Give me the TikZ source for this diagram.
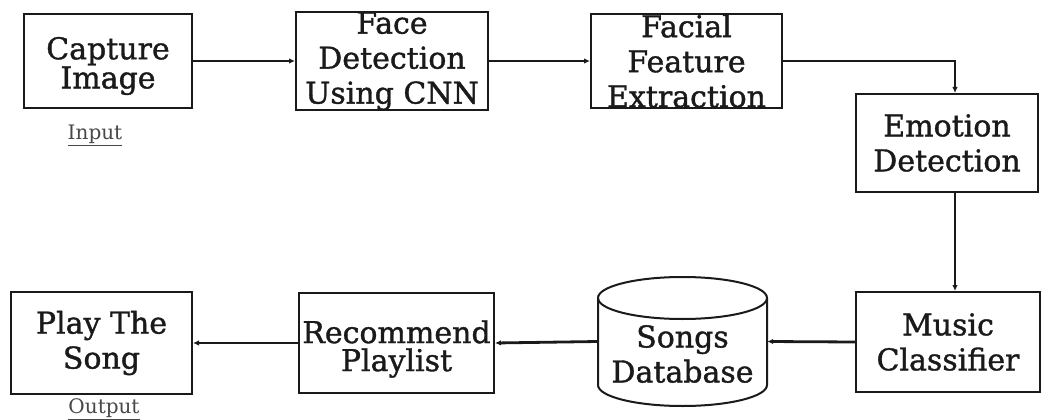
\documentclass[tikz,border=0pt]{standalone}
\usepackage{fontspec}
\setmainfont{DejaVu Serif}[BoldFont=DejaVu Serif,BoldFeatures={FakeBold=1.2}]
\usetikzlibrary{arrows.meta,calc}
\definecolor{ink}{HTML}{1A1A1A}
\begin{document}
\begin{tikzpicture}[x=1pt,y=-1pt,
  blk/.style={draw=ink,line width=2pt,inner sep=0pt,align=center,text=ink,
    font=\fontsize{30}{35}\selectfont\bfseries},
  tight/.style={font=\fontsize{30}{28}\selectfont\bfseries},
  conn/.style={draw=ink,line width=2.8pt,-{Latex[length=6pt,width=5.5pt]}},
  lbl/.style={text=ink!80,font=\fontsize{20}{22}\selectfont,inner sep=0pt}]
\useasboundingbox (0,0) rectangle (1042,420);
\fill[white] (0,0) rectangle (1042,420);
% boxes
\node[blk,minimum width=168pt,minimum height=94pt] (cap) at (108,61) {};
\node[blk,tight,draw=none] (captxt) at (108,66) {Capture\\Image};
\node[blk,minimum width=192pt,minimum height=94pt] (face) at (392,61) {Face\\Detection\\Using CNN};
\node[blk,minimum width=191pt,minimum height=94pt] (feat) at (686.5,61) {Facial\\Feature\\Extraction};
\node[blk,minimum width=182pt,minimum height=98pt] (emo) at (947,143) {Emotion\\Detection};
\node[blk,minimum width=184pt,minimum height=100pt] (mus) at (948,342) {Music\\Classifier};
\node[draw=none,minimum width=169pt,minimum height=129pt,inner sep=0pt] (db) at (682.5,341.5) {};
\node[blk,minimum width=195pt,minimum height=100pt] (rec) at (396.5,343) {};
\node[blk,tight,draw=none] (rectxt) at (396.5,349) {Recommend\\Playlist};
\node[blk,minimum width=181pt,minimum height=102pt] (play) at (101.5,343) {Play The\\Song};
% database cylinder
\draw[ink,line width=2pt,fill=white]
  (598,298) -- (598,385) arc[start angle=180,end angle=360,x radius=84.5pt,y radius=21pt]
  -- (767,298);
\draw[ink,line width=2pt] (682.5,298) ellipse[x radius=84.5pt,y radius=21pt];
\node[blk,draw=none] (dbtxt) at (682.5,354) {Songs\\Database};
% labels
\node[lbl] (inlbl) at (95,135) {\underline{Input}};
\node[lbl] (outlbl) at (104,409) {\underline{Output}};
% connectors
\draw[conn] (cap.east) -- (face.west);
\draw[conn] (face.east) -- (feat.west);
\draw[conn] (feat.east) -| ([xshift=8pt]emo.north);
\draw[conn] ([xshift=8pt]emo.south) -- ([xshift=7pt]mus.north);
\draw[conn] (mus.west) -- (db.east);
\draw[conn] (db.west) -- (rec.east);
\draw[conn] (rec.west) -- (play.east);
\end{tikzpicture}
\end{document}
